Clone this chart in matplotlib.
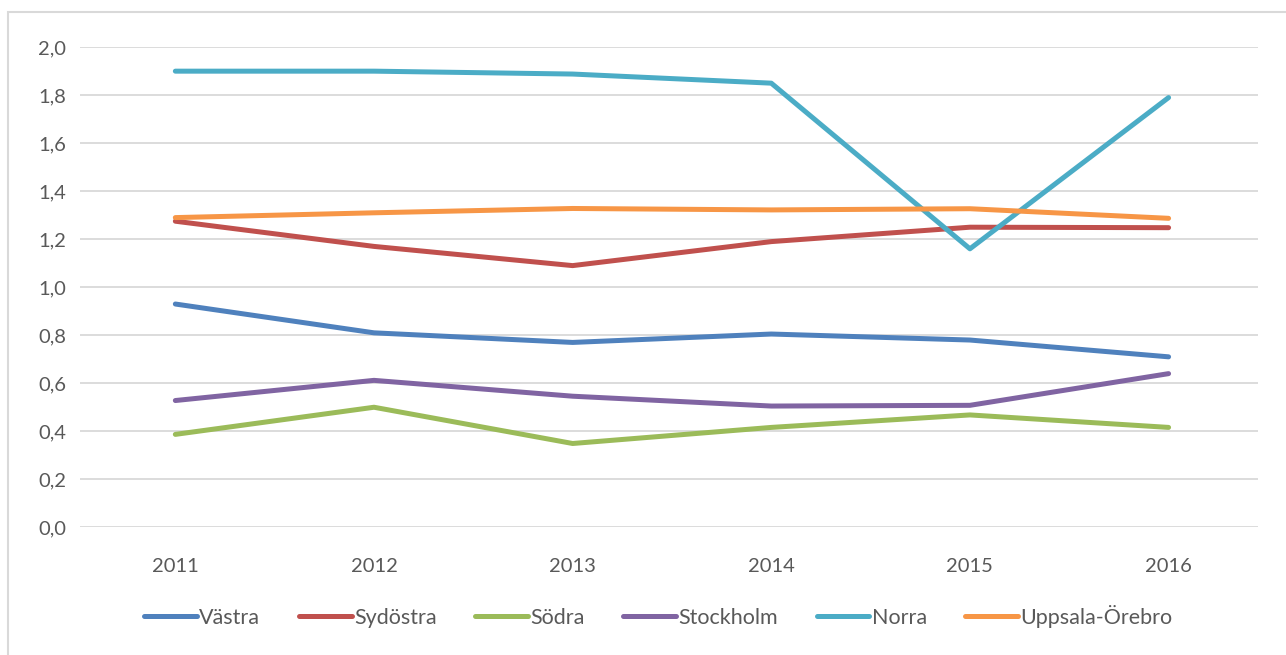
import numpy as np
import matplotlib.pyplot as plt
from matplotlib.patches import Rectangle
from matplotlib.ticker import FuncFormatter

years = ['2011', '2012', '2013', '2014', '2015', '2016']
vastra = [0.93, 0.81, 0.77, 0.805, 0.78, 0.71]
sydostra = [1.275, 1.17, 1.09, 1.19, 1.25, 1.248]
sodra = [0.387, 0.50, 0.349, 0.416, 0.468, 0.416]
stockholm = [0.528, 0.612, 0.546, 0.505, 0.508, 0.640]
norra = [1.90, 1.90, 1.888, 1.85, 1.16, 1.79]
uppsala = [1.29, 1.31, 1.328, 1.322, 1.327, 1.287]

series = [
    ('Västra', vastra, '#4F81BD'),
    ('Sydöstra', sydostra, '#C0504D'),
    ('Södra', sodra, '#9BBB59'),
    ('Stockholm', stockholm, '#8064A2'),
    ('Norra', norra, '#4BACC6'),
    ('Uppsala-Örebro', uppsala, '#F79646'),
]

plt.rcParams['font.family'] = ['Lato', 'DejaVu Sans']

fig = plt.figure(figsize=(12.86, 6.55), dpi=100)
ax = fig.add_axes([0.0622, 0.195, 0.916, 0.733])

x = np.arange(len(years))
for name, vals, col in series:
    ax.plot(x, vals, color=col, lw=3.6, label=name, solid_capstyle='round',
            solid_joinstyle='round')

ax.set_xlim(-0.48, 5.45)
ax.set_ylim(0, 2.0)
ax.set_yticks(np.arange(0, 2.01, 0.2))
ax.yaxis.set_major_formatter(FuncFormatter(lambda v, p: f'{v:.1f}'.replace('.', ',')))
ax.set_xticks(x)
ax.set_xticklabels(years)
ax.grid(axis='y', color='#d9d9d9', lw=1.3)
ax.set_axisbelow(True)
for s in ax.spines.values():
    s.set_visible(False)
ax.tick_params(length=0, labelsize=14.5, colors='#595959', pad=10)
ax.tick_params(axis='x', pad=22)

leg = fig.legend(loc='center', bbox_to_anchor=(0.512, 0.059), ncol=6, frameon=False,
                 fontsize=15.5, handlelength=2.45, columnspacing=1.8, handletextpad=0.1)
for t in leg.get_texts():
    t.set_color('#595959')

fig.add_artist(Rectangle((8 / 1286, -0.1), 1.2, (655 - 12) / 655 + 0.1,
                         transform=fig.transFigure, fill=False,
                         edgecolor='#d9d9d9', lw=1.5))

fig.savefig('out.png', dpi=100)
